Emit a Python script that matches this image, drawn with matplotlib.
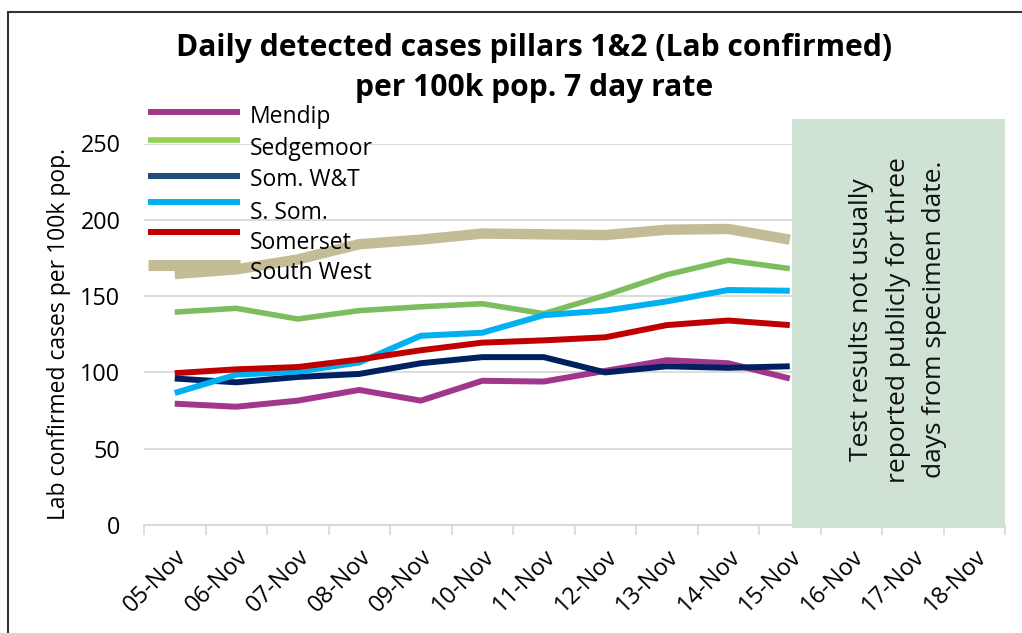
import matplotlib
matplotlib.use("Agg")
import matplotlib.pyplot as plt
from matplotlib.lines import Line2D
from matplotlib.patches import Rectangle

# ---- data ----
dates = ["05-Nov", "06-Nov", "07-Nov", "08-Nov", "09-Nov", "10-Nov", "11-Nov",
         "12-Nov", "13-Nov", "14-Nov", "15-Nov", "16-Nov", "17-Nov", "18-Nov"]
mendip = [79.5, 77.5, 81.5, 88.5, 81.5, 94.5, 94, 101, 108, 106, 96]
sedgemoor = [139.5, 142, 135, 140.5, 143, 145, 138.5, 150.5, 164, 173.5, 168]
som_wt = [96, 93.5, 97, 99, 106, 110, 110, 100, 104, 103, 104]
s_som = [86.5, 98.5, 100.5, 106.5, 124, 126, 137.5, 140.5, 146.5, 154, 153.5]
somerset = [99.5, 102, 103.5, 108.5, 114.5, 119.5, 121, 123, 131, 134, 131]
south_west = [164.5, 167.5, 174, 184, 187, 191, 190.5, 190, 193.5, 194, 187]
series_names = ["Mendip", "Sedgemoor", "Som. W&T", "S. Som.", "Somerset", "South West"]
y_ticks = [0, 50, 100, 150, 200, 250]
note = "Test results not usually\nreported publicly for three\ndays from specimen date."

W, H = 1022, 633
plt.rcParams['font.family'] = ['Open Sans', 'DejaVu Sans']
fig = plt.figure(figsize=(W / 100, H / 100), dpi=100)
ax = fig.add_axes([144 / W, 1 - 525 / H, (1005 - 144) / W, (525 - 143.5) / H])

series = [mendip, sedgemoor, som_wt, s_som, somerset, south_west]
line_colors = ["#A0378C", "#7DBD5F", "#002060", "#00B0F0", "#C00000", "#C4BC96"]
legend_colors = ["#A0378C", "#92D050", "#1F4E79", "#00B0F0", "#C00000", "#C4BC96"]
widths = [4.3, 4.0, 4.3, 4.3, 4.3, 7.5]
order = [5, 1, 3, 4, 2, 0]
for i in order:
    ax.plot(range(len(series[i])), series[i], color=line_colors[i], lw=widths[i],
            solid_capstyle='butt', solid_joinstyle='round', zorder=3 + i)

n = len(dates)
ax.set_xlim(-0.5, n - 0.5)
ax.set_ylim(0, 250)
ax.set_yticks(y_ticks)
ax.set_yticklabels([str(v) for v in y_ticks], fontsize=16.8)
ax.set_xticks(range(n))
ax.set_xticklabels(dates, fontsize=17, rotation=45, ha='right', va='top',
                   rotation_mode='anchor')
ax.set_xticks([i - 0.5 for i in range(n + 1)], minor=True)
ax.tick_params(axis='x', which='major', length=0, pad=14)
ax.tick_params(axis='x', which='minor', length=7, color='#D9D9D9', width=1.2)
ax.tick_params(axis='y', length=0, pad=17)
ax.grid(axis='y', color='#D9D9D9', lw=1.3, zorder=0)
for s in ['left', 'right', 'top']:
    ax.spines[s].set_visible(False)
ax.spines['bottom'].set_color('#D9D9D9')
ax.spines['bottom'].set_linewidth(1.5)
ax.set_axisbelow(True)
ax.set_ylabel("Lab confirmed cases per 100k pop.", fontsize=16.5)
ax.yaxis.set_label_coords((71 - 144) / 861, 0.5)

# shaded "not reported" region
rect = Rectangle((10.03, -2), n - 0.5 - 10.03, 268, facecolor='#CFE2D3',
                 edgecolor='none', zorder=20, clip_on=False)
ax.add_patch(rect)
ax.text((10.03 + n - 0.5) / 2, 134.5, note, rotation=90, ha='center', va='center',
        fontsize=19, linespacing=1.6, zorder=21, color='#111111')

# title
fig.text(534 / W, 1 - 48 / H, "Daily detected cases pillars 1&2 (Lab confirmed)",
         ha='center', va='center', fontsize=21.6, fontweight='bold')
fig.text(534 / W, 1 - 88 / H, "per 100k pop. 7 day rate",
         ha='center', va='center', fontsize=21.6, fontweight='bold')

# manual legend (Excel-like)
line_y = [112, 140, 176, 202, 232, 265]
text_y = [117, 149, 180, 213, 243, 273]
leg_w = [4.3, 4.0, 4.3, 4.3, 4.3, 8.0]
for k, name in enumerate(series_names):
    fig.add_artist(Line2D([148 / W, 240 / W], [1 - line_y[k] / H] * 2,
                          transform=fig.transFigure, color=legend_colors[k],
                          lw=leg_w[k], solid_capstyle='butt', zorder=30))
    fig.text(250 / W, 1 - text_y[k] / H, name, ha='left', va='center',
             fontsize=16.5, zorder=31)

# outer border
fig.add_artist(Rectangle((8 / W, -0.1), 1.2, 1 - 12 / H + 0.1,
                         transform=fig.transFigure, fill=False,
                         edgecolor='#333333', lw=1.5, zorder=40))

fig.savefig("out.png", dpi=100)
